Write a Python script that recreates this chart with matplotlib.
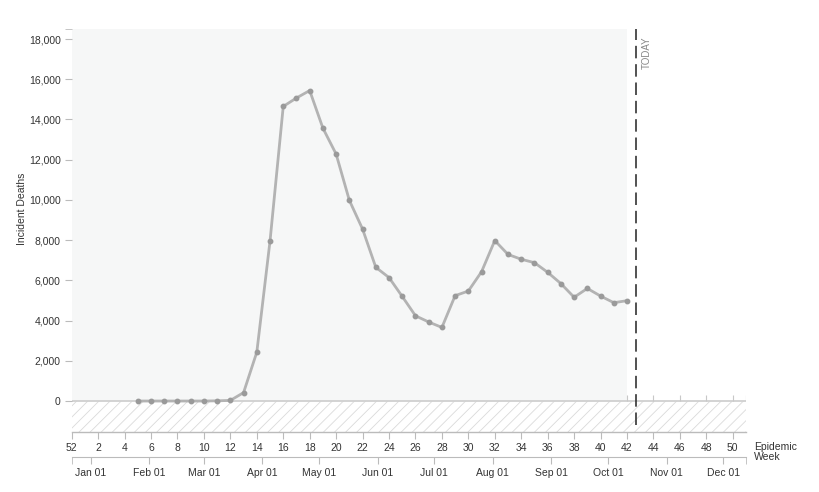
import datetime as dt
import matplotlib
matplotlib.use("Agg")
import matplotlib.pyplot as plt
from matplotlib.patches import Rectangle

plt.rcParams['font.family'] = ['Liberation Sans', 'DejaVu Sans']
plt.rcParams['hatch.linewidth'] = 0.6

# ---- data ----
weeks = [5, 6, 7, 8, 9, 10, 11, 12, 13, 14, 15, 16, 17, 18, 19, 20, 21, 22, 23,
         24, 25, 26, 27, 28, 29, 30, 31, 32, 33, 34, 35, 36, 37, 38, 39, 40, 41, 42]
deaths = [0, 0, 0, 0, 0, 0, 10, 30, 420, 2430, 7960, 14650, 15070, 15440, 13570,
          12280, 9980, 8550, 6650, 6140, 5200, 4240, 3930, 3660, 5240, 5470, 6430,
          7980, 7290, 7050, 6880, 6400, 5840, 5160, 5600, 5220, 4890, 4990]
week_ticks = list(range(0, 51, 2))
week_labels = ['52'] + [str(w) for w in range(2, 51, 2)]
month_labels = ['Jan 01', 'Feb 01', 'Mar 01', 'Apr 01', 'May 01', 'Jun 01',
                'Jul 01', 'Aug 01', 'Sep 01', 'Oct 01', 'Nov 01', 'Dec 01']
y_ticks = list(range(0, 18001, 2000))
origin = dt.date(2019, 12, 22)  # start of epidemic week 52 (position 0)
today = dt.date(2020, 10, 16)
last_obs_week = 42
x_max = 51
y_min, y_max = -1540, 18500

def to_week(d):
    return (d - origin).days / 7.0

month_pos = [to_week(dt.date(2020, m, 1)) for m in range(1, 13)]
today_pos = to_week(today)

W, H = 819, 492
fig = plt.figure(figsize=(W / 100, H / 100), dpi=100)
L, R, T, B = 71.7, 746, 29, 432
ax = fig.add_axes([L / W, 1 - B / H, (R - L) / W, (B - T) / H])
ax.set_xlim(0, x_max)
ax.set_ylim(y_min, y_max)

# background regions
ax.add_patch(Rectangle((0, 0), last_obs_week, y_max, facecolor='#f6f7f7',
                       edgecolor='none', zorder=0))
ax.add_patch(Rectangle((0, y_min), x_max, -y_min, facecolor='white',
                       edgecolor='#dadada', hatch='///', linewidth=0, zorder=0))
ax.axhline(0, color='#d0d0d0', lw=1.3, zorder=1)
for w in list(range(last_obs_week, 51, 2)) + [x_max]:
    ax.plot([w, w], [0, 300], color='#c8c8c8', lw=0.8, zorder=1,
            solid_capstyle='butt')

# data
ax.plot(weeks, deaths, color='#b3b3b3', lw=2, zorder=3)
ax.plot(weeks, deaths, 'o', color='#9a9a9a', ms=3.2, zorder=4)

# today line
ax.vlines(today_pos, -1200, y_max, colors='#333333', lw=1.2,
          linestyles=(0, (7.5, 3.5)), zorder=5)
ax.text(today_pos + 0.75, y_max - 350, 'TODAY', rotation=90, ha='center', va='top',
        fontsize=7, color='#888888')

# axes styling
for s in ['top', 'right', 'left']:
    ax.spines[s].set_visible(False)
ax.spines['bottom'].set_color('#bbbbbb')
ax.spines['bottom'].set_linewidth(1)
ax.set_xticks(week_ticks)
ax.set_xticklabels(week_labels)
ax.tick_params(axis='x', length=5, color='#bbbbbb', labelsize=7.5,
               labelcolor='#333333', pad=3)
ax.set_yticks(y_ticks)
ax.set_yticklabels([f'{v:,}' for v in y_ticks])
ax.set_yticks([y_max], minor=True)
ax.tick_params(axis='y', which='both', length=5, color='#bbbbbb', labelsize=7.5,
               labelcolor='#333333', pad=3)
ax.set_ylabel('Incident Deaths', fontsize=7.5, color='#333333')
ax.yaxis.set_label_coords(-0.067, 0.555)
ax.text(1.012, -0.025, 'Epidemic\nWeek', transform=ax.transAxes, ha='left',
        va='top', fontsize=7.5, color='#333333', linespacing=0.95)

# date axis
ax2 = fig.add_axes([L / W, 1 - 457 / H, (R - L) / W, 0.001])
ax2.set_xlim(0, x_max)
ax2.set_yticks([])
ax2.patch.set_visible(False)
for s in ['top', 'right', 'left']:
    ax2.spines[s].set_visible(False)
ax2.spines['bottom'].set_color('#bbbbbb')
ax2.set_xticks(month_pos)
ax2.set_xticklabels(month_labels)
ax2.set_xticks([0, x_max], minor=True)
ax2.tick_params(axis='x', which='both', length=5, color='#bbbbbb', labelsize=7.5,
                labelcolor='#333333', pad=3)

fig.savefig('out.png', dpi=100)
